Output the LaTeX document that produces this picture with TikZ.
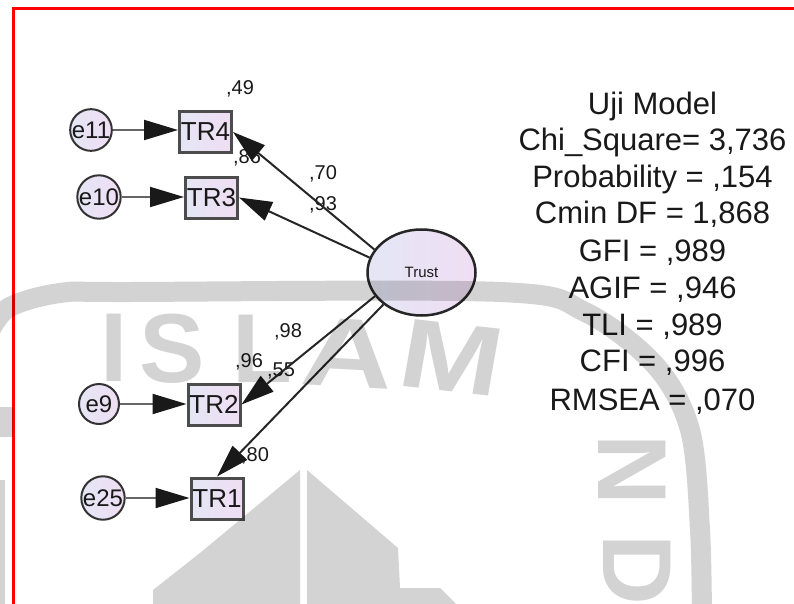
\documentclass[tikz,border=0pt]{standalone}
\usepackage{fontspec}
\setmainfont{Liberation Sans}
\usetikzlibrary{arrows.meta,shapes.geometric}
\definecolor{wm}{RGB}{211,211,211}
\definecolor{fillL}{RGB}{228,230,245}
\definecolor{fillR}{RGB}{240,222,243}
\definecolor{ink}{RGB}{25,25,25}
\begin{document}
\begin{tikzpicture}[x=1pt,y=-1pt,
  obs/.style={rectangle, draw=black!70, line width=3pt, minimum width=52pt, minimum height=41pt,
    inner sep=0pt, left color=fillL, right color=fillR, text=ink, font=\fontsize{26}{26}\selectfont},
  err/.style={circle, draw=black!80, line width=2pt, minimum size=40pt, inner sep=0pt,
    left color=fillL, right color=fillR, text=ink, font=\fontsize{24}{24}\selectfont},
  lat/.style={ellipse, draw=black!85, line width=2.5pt, minimum width=108pt, minimum height=86pt,
    inner sep=0pt, left color=fillL, right color=fillR, text=ink, font=\fontsize{15}{15}\selectfont},
  lab/.style={inner sep=0pt, text=ink, font=\fontsize{20}{20}\selectfont},
  fit/.style={inner sep=0pt, anchor=base, text=ink, font=\fontsize{31}{31}\selectfont},
  errarr/.style={draw=black!60, line width=2pt, -{Triangle[length=34pt,width=20pt,color=black!90]}},
  ldarr/.style={draw=black!85, line width=2pt, -{Triangle[length=33pt,width=20pt,color=black!90]}},
  wmtext/.style={inner sep=0pt, text=wm, font=\fontsize{98}{98}\selectfont\bfseries}
]
\useasboundingbox (0,0) rectangle (794,604);
\fill[white] (0,0) rectangle (794,604);
\draw[red, line width=2.4pt] (13.5,604) -- (13.5,8.5) -- (794,8.5);

% nodes
\node[err] (e11) at (91,130) {e11};
\node[err] (e10) at (99,197) {e10};
\node[err] (e9)  at (99,404) {e9};
\node[err] (e25) at (103,498) {e25};
\node[obs] (TR4) at (205.5,132) {TR4};
\node[obs] (TR3) at (211.5,197.5) {TR3};
\node[obs] (TR2) at (214,404.5) {TR2};
\node[obs] (TR1) at (217,498.5) {TR1};
\node[lat] (trust) at (421.5,272.5) {Trust};

% labels
\node[lab] (l49) at (240,89) {,49};
\node[lab] (l86) at (247,158) {,86};
\node[lab] (l70) at (323,174) {,70};
\node[lab] (l93) at (323,205) {,93};
\node[lab] (l98) at (288,332) {,98};
\node[lab] (l96) at (249,362) {,96};
\node[lab] (l55) at (281,371) {,55};
\node[lab] (l80) at (255,456) {,80};

% arrows
\draw[errarr] (e11) -- (e11 -| TR4.west);
\draw[errarr] (e10) -- (e10 -| TR3.west);
\draw[errarr] (e9) -- (e9 -| TR2.west);
\draw[errarr] (e25) -- (e25 -| TR1.west);
\draw[ldarr] (trust.154) -- (TR4.east);
\draw[ldarr] (trust.164) -- (TR3.east);
\draw[ldarr] (trust.207) -- (TR2.east);
\draw[ldarr] (trust.220) -- (TR1.north);

% fit statistics
\node[fit] (f1) at (652.5,115) {Uji Model};
\node[fit] (f2) at (652.5,151) {Chi\_Square= 3,736};
\node[fit] (f3) at (652.5,187) {Probability = ,154};
\node[fit] (f4) at (652.5,223) {Cmin DF = 1,868};
\node[fit] (f5) at (652.5,261) {GFI = ,989};
\node[fit] (f6) at (652.5,298) {AGIF = ,946};
\node[fit] (f7) at (652.5,335) {TLI = ,989};
\node[fit] (f8) at (652.5,371) {CFI = ,996};
\node[fit] (f9) at (652.5,410) {RMSEA = ,070};

% watermark
\begin{scope}[blend mode=multiply]
\draw[wm, line width=20pt, line join=round, line cap=butt]
  plot[smooth, tension=0.55] coordinates {(-12,335) (8,308) (60,293) (130,292) (500,292) (585,312) (655,365) (690,430) (700,530) (702,625)};
\node[wmtext] (wI) at (114,348) {I};
\node[wmtext] (wS) at (172,349) {S};
\node[wmtext] (wL) at (262,349) {L};
\node[wmtext, xscale=1.3, rotate=-4] (wA) at (348,353) {A};
\node[wmtext, xscale=1.25, rotate=-8] (wM) at (452,358) {M};
\node[wmtext, rotate=-90] (wN) at (632,470) {N};
\node[wmtext, rotate=-90] (wD) at (637,570) {D};
\fill[wm] (300,470) -- (300,604) -- (153,604) -- (153,590) -- (200,553) -- cycle;
\fill[wm] (307,470) -- (398,548) -- (400,588) -- (440,588) -- (456,604) -- (307,604) -- cycle;
\fill[wm] (0,407) rectangle (13,437);
\fill[wm] (0,480) rectangle (5,604);
\end{scope}
\end{tikzpicture}
\end{document}
